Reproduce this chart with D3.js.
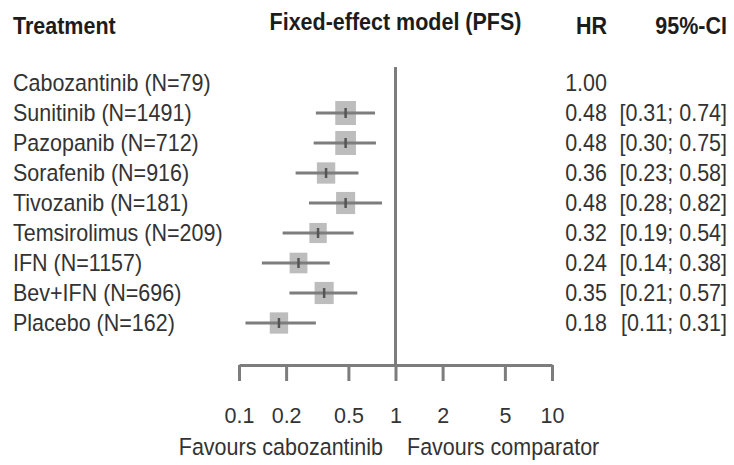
<!DOCTYPE html>
<html>
<head>
<meta charset="utf-8">
<script src="https://cdn.jsdelivr.net/npm/d3@7"></script>
<style>
  body { margin: 0; background: #fff; }
  text { font-family: "Liberation Sans", Arial, sans-serif; }
</style>
</head>
<body>
<div id="container"></div>
<script>
    // treatments and estimates (HR vs cabozantinib, PFS)
    const treatments = ["Cabozantinib (N=79)", "Sunitinib (N=1491)", "Pazopanib (N=712)",
        "Sorafenib (N=916)", "Tivozanib (N=181)", "Temsirolimus (N=209)", "IFN (N=1157)",
        "Bev+IFN (N=696)", "Placebo (N=162)"];
    const hr = [1.00, 0.48, 0.48, 0.36, 0.48, 0.32, 0.24, 0.35, 0.18];
    const lower = [null, 0.31, 0.30, 0.23, 0.28, 0.19, 0.14, 0.21, 0.11];
    const upper = [null, 0.74, 0.75, 0.58, 0.82, 0.54, 0.38, 0.57, 0.31];
    // rough weights
    const weight = [null, 14.5, 14.5, 11.4, 12.3, 10.2, 10.7, 12.3, 11.4];
    const tickValues = [0.1, 0.2, 0.5, 1, 2, 5, 10];

    const width = 734;
    const height = 465;
    const fontSize = 21.5;
    const gray = "#7d7d7d";
    const textCol = "#333";

    const svg = d3.create("svg")
        .attr("width", width)
        .attr("height", height);

    const x = d3.scaleLog().domain([0.1, 10]).range([239, 552]);
    const y = d3.scaleLinear().domain([0, treatments.length - 1]).range([83, 323]);
    const boxSize = d3.scaleSqrt().domain([0, d3.max(weight)]).range([0, 20.7]);
    const fmt = d3.format(".2f");

    // little helper: text slightly stretched vertically like the source
    function label(str, tx, ty, anchor, bold) {
        return svg.append("text")
            .attr("transform", `translate(${tx},${ty}) scale(1,1.12)`)
            .attr("text-anchor", anchor || "start")
            .attr("font-size", fontSize)
            .attr("font-weight", bold ? "bold" : "normal")
            .attr("fill", bold ? "#1c1c1c" : textCol)
            .text(str);
    }

    // headers
    label("Treatment", 13, 34, "start", true);
    label("Fixed-effect model (PFS)", x(1), 30, "middle", true);
    label("HR", 607, 34, "end", true);
    label("95%-CI", 727, 34, "end", true);

    // reference line at HR = 1
    svg.append("line")
        .attr("x1", x(1)).attr("x2", x(1))
        .attr("y1", 67).attr("y2", 365)
        .attr("stroke", gray)
        .attr("stroke-width", 3);

    // rows
    treatments.forEach((t, i) => {
        const cy = y(i);
        label(t, 13, cy + 7.5, "start");
        label(fmt(hr[i]), 607, cy + 7.5, "end");
        if (lower[i] == null) return;
        label(`[${fmt(lower[i])}; ${fmt(upper[i])}]`, 727, cy + 7.5, "end");

        const s = boxSize(weight[i]);
        svg.append("rect")
            .attr("x", x(hr[i]) - s / 2)
            .attr("y", cy - s * 0.58)
            .attr("width", s)
            .attr("height", s * 1.16)
            .attr("fill", "#bdbdbd");
        svg.append("line")
            .attr("x1", x(lower[i])).attr("x2", x(upper[i]))
            .attr("y1", cy).attr("y2", cy)
            .attr("stroke", gray)
            .attr("stroke-width", 3);
        svg.append("line")
            .attr("x1", x(hr[i])).attr("x2", x(hr[i]))
            .attr("y1", cy - 5).attr("y2", cy + 5)
            .attr("stroke", "#555")
            .attr("stroke-width", 2.5);
    });

    // x axis
    const axis = svg.append("g")
        .attr("transform", "translate(0,365)")
        .call(d3.axisBottom(x)
            .tickValues(tickValues)
            .tickFormat(d3.format("~g"))
            .tickSize(16)
            .tickSizeOuter(0)
            .tickPadding(27));
    axis.select(".domain").attr("stroke", gray).attr("stroke-width", 3);
    axis.selectAll(".tick line").attr("stroke", gray).attr("stroke-width", 3);
    axis.selectAll(".tick text")
        .attr("font-size", fontSize)
        .attr("font-family", "Liberation Sans, Arial, sans-serif")
        .attr("fill", textCol);

    label("Favours cabozantinib", 383, 455, "end");
    label("Favours comparator", 407, 455, "start");

    container.append(svg.node());
</script>
</body>
</html>
